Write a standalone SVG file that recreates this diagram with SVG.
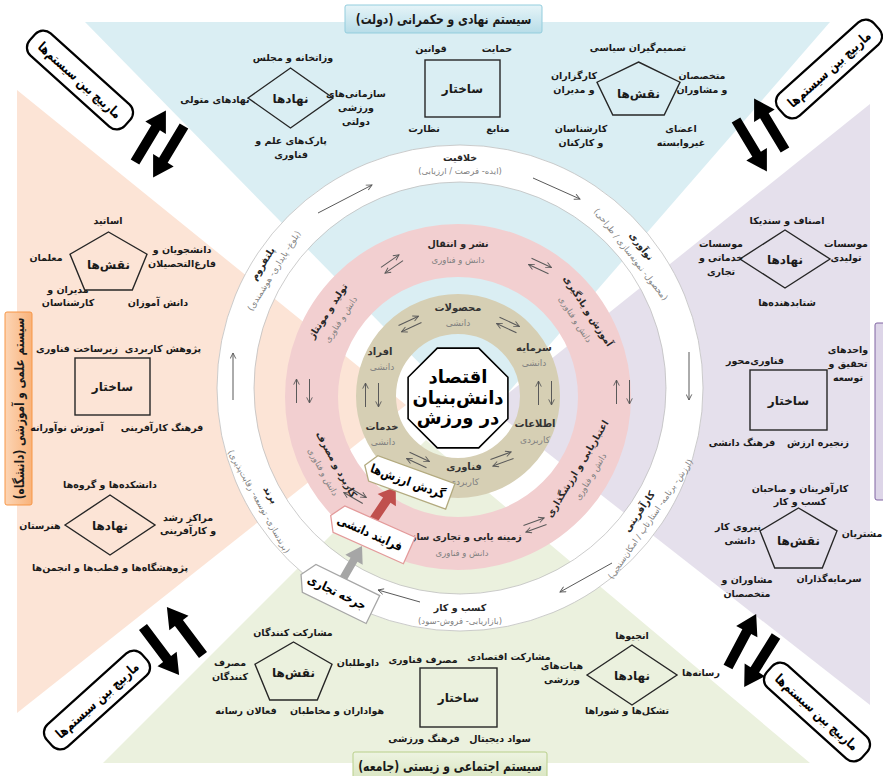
<svg xmlns="http://www.w3.org/2000/svg" width="883" height="776" viewBox="0 0 883 776">
<defs>
<style>
text{font-family:"DejaVu Sans","Noto Sans",sans-serif;text-anchor:middle;direction:rtl}
.l{font-size:9.5px;font-weight:bold;fill:#1a1a1a}
.c{font-size:12px;font-weight:bold;fill:#1a1a1a}
.rt{font-size:9.5px;font-weight:bold;fill:#262626}
.rs{font-size:8.5px;fill:#7f7f7f}
.tt{font-size:10px;font-weight:bold;fill:#333}
.ts{font-size:9px;fill:#808080}
.sh{fill:none;stroke:#262626;stroke-width:1.4}
.ta{fill:none;stroke:#595959;stroke-width:1;marker-end:url(#ah)}
.corner rect{fill:#fff;stroke:#000;stroke-width:2.2}
.corner text{font-size:13.5px;font-weight:bold;fill:#000}
.tag polygon{fill:#fff;stroke-width:1.3}
.tag text{font-size:12.5px;font-weight:bold;fill:#000}
.ttl{font-size:13.5px;font-weight:bold;fill:#1a1a1a}
.core{font-size:18px;font-weight:bold;fill:#000}
</style>
<linearGradient id="gB" x1="0" y1="0" x2="0" y2="1"><stop offset="0" stop-color="#e6f4f8"/><stop offset="1" stop-color="#b7dde8"/></linearGradient>
<linearGradient id="gO" x1="0" y1="0" x2="1" y2="0"><stop offset="0" stop-color="#fcd5b5"/><stop offset="1" stop-color="#f9b27a"/></linearGradient>
<linearGradient id="gG" x1="0" y1="0" x2="0" y2="1"><stop offset="0" stop-color="#eef4e2"/><stop offset="1" stop-color="#d7e4bd"/></linearGradient>
<marker id="ah" viewBox="0 0 10 10" refX="9" refY="5" markerWidth="7" markerHeight="7" orient="auto" markerUnits="userSpaceOnUse"><path d="M1,1 L9,5 L1,9" fill="none" stroke="#595959" stroke-width="1.3"/></marker>
<path id="ba" d="M0,-5 H40 V-12 L60,0 L40,12 V5 H0 Z" fill="#000"/>
<g id="p2" class="ta"><line x1="-11" y1="-3.5" x2="11" y2="-3.5"/><line x1="11" y1="3.5" x2="-11" y2="3.5"/></g>
<g id="p2w" class="ta"><line x1="-12" y1="-6.5" x2="12" y2="-6.5"/><line x1="12" y1="6.5" x2="-12" y2="6.5"/></g>
</defs>

<g id="background">
<polygon points="85,22 830,22 480,425" fill="#daeef3"/>
<polygon points="870,104 870,705 490,408" fill="#e5e0ec"/>
<polygon points="103,763 810,763 426,440" fill="#ebf1de"/>
<polygon points="17,90 17,713 406,405" fill="#fce4d6"/>
</g>

<g id="rings">
<circle cx="460" cy="388" r="224.5" fill="none" stroke="#fff" stroke-width="37"/>
<circle cx="460" cy="388" r="243" fill="none" stroke="#bfbfbf" stroke-width="0.8"/>
<circle cx="460" cy="388" r="206" fill="none" stroke="#bfbfbf" stroke-width="0.8"/>
<circle cx="458" cy="397" r="146.5" fill="none" stroke="#f2cfd0" stroke-width="53"/>
<circle cx="458" cy="396" r="82" fill="none" stroke="#d6cfb4" stroke-width="40"/>
</g>

<g id="title-top"><rect x="345" y="5" width="197" height="28" rx="2" fill="url(#gB)" stroke="#93cddd"/><text class="ttl" transform="translate(443.5,24) scale(0.8,1)">سیستم نهادی و حکمرانی (دولت)</text></g>
<g id="title-bottom"><rect x="353" y="752" width="194" height="30" rx="2" fill="url(#gG)" stroke="#b8cf8a"/><text class="ttl" transform="translate(450,771) scale(0.8,1)">سیستم اجتماعی و زیستی (جامعه)</text></g>
<g id="title-left"><rect x="5" y="312" width="27" height="193" rx="2" fill="url(#gO)" stroke="#f79646"/><text class="ttl" transform="translate(23.5,408.5) rotate(-90) scale(0.78,1)">سیستم علمی و آموزشی (دانشگاه)</text></g>
<g id="title-right"><rect x="875" y="323" width="20" height="177" rx="2" fill="#ddd5e8" stroke="#8064a2"/></g>

<g id="connectors">
<line class="ta" x1="318" y1="213" x2="372" y2="185"/>
<line class="ta" x1="533" y1="178" x2="580" y2="199"/>
<line class="ta" x1="689" y1="352" x2="689" y2="400"/>
<line class="ta" x1="612" y1="563" x2="560" y2="592"/>
<line class="ta" x1="420" y1="602" x2="378" y2="590"/>
<line class="ta" x1="233" y1="400" x2="233" y2="353"/>
<use href="#p2" transform="translate(392,264) rotate(-35)"/>
<use href="#p2" transform="translate(540,266) rotate(25)"/>
<use href="#p2w" transform="translate(303,391) rotate(-90)"/>
<use href="#p2w" transform="translate(623,392) rotate(-90)"/>
<use href="#p2" transform="translate(355,495) rotate(30)"/>
<use href="#p2" transform="translate(535,525) rotate(-20)"/>
<use href="#p2" transform="translate(508,325) rotate(25)"/>
<use href="#p2w" transform="translate(545,393) rotate(-90)"/>
<use href="#p2" transform="translate(502,459) rotate(-20)"/>
<use href="#p2" transform="translate(418,460) rotate(25)"/>
<use href="#p2w" transform="translate(372,395) rotate(-90)"/>
<use href="#p2" transform="translate(410,324) rotate(-25)"/>
<use href="#ba" transform="translate(135,162) rotate(-59)"/>
<use href="#ba" transform="translate(184,126) rotate(121)"/>
<use href="#ba" transform="translate(785,150) rotate(-121)"/>
<use href="#ba" transform="translate(736,120) rotate(59)"/>
<use href="#ba" transform="translate(203,655) rotate(-127)"/>
<use href="#ba" transform="translate(143,627) rotate(53)"/>
<use href="#ba" transform="translate(728,667) rotate(-62)"/>
<use href="#ba" transform="translate(776,636) rotate(122)"/>
<path transform="translate(340,584) rotate(-60)" d="M0,-4 H28 V-10 L44,0 L28,10 V4 H0 Z" fill="#a6a6a6"/>
<path transform="translate(370,525) rotate(-56)" d="M0,-4.5 H30 V-11 L46,0 L30,11 V4.5 H0 Z" fill="#c0504d"/>
</g>

<g id="ring-white-labels">
<g transform="translate(460,164)"><text class="rt" y="-3">خلاقیت</text><text class="rs" y="10">(ایده- فرصت / ارزیابی)</text></g>
<g transform="translate(636.5,250) rotate(52)"><text class="rt" y="-3">نوآوری</text><text class="rs" y="10">(محصول- نمونه&#8204;سازی / طراحی)</text></g>
<g transform="translate(644.6,515) rotate(-55.5)"><text class="rt" y="-3">کارآفرینی</text><text class="rs" y="10">(ارزش- برنامه- استارتاپ / امکان&#8204;سنجی)</text></g>
<g transform="translate(460,614)"><text class="rt" y="-3">کسب و کار</text><text class="rs" y="10">(بازاریابی- فروش-سود)</text></g>
<g transform="translate(265,498) rotate(60.6)"><text class="rt" y="-3">برند</text><text class="rs" y="10">(برندسازی- توسعه- رقابت&#8204;پذیری)</text></g>
<g transform="translate(268,267) rotate(-58)"><text class="rt" y="-3">پلتفروم</text><text class="rs" y="10">(بلوغ- پایداری- هوشمندی)</text></g>
</g>

<g id="ring-pink-labels">
<g transform="translate(458,250.5)"><text class="rt" y="-4">نشر و انتقال</text><text class="rs" y="12">دانش و فناوری</text></g>
<g transform="translate(582,315) rotate(57)"><text class="rt" y="-4">آموزش و یادگیری</text><text class="rs" y="11">دانش و فناوری</text></g>
<g transform="translate(583.6,472.5) rotate(-59)"><text class="rt" y="-4">اعتباریابی و ارزشگذاری</text><text class="rs" y="11">دانش و فناوری</text></g>
<g transform="translate(462,543.5)"><text class="rt" y="-4">زمینه یابی و تجاری سازی</text><text class="rs" y="12">دانش و فناوری</text></g>
<g transform="translate(330,468) rotate(61)"><text class="rt" y="-4">کاربرد و مصرف</text><text class="rs" y="11">دانش و فناوری</text></g>
<g transform="translate(334,315) rotate(-57)"><text class="rt" y="-4">تولید و مونتاژ</text><text class="rs" y="11">دانش و فناوری</text></g>
</g>

<g id="ring-tan-labels">
<text class="tt" x="458" y="311">محصولات</text><text class="ts" x="458" y="326">دانشی</text>
<text class="tt" x="534" y="351">سرمایه</text><text class="ts" x="534" y="366">دانشی</text>
<text class="tt" x="535" y="427">اطلاعات</text><text class="ts" x="535" y="443">کاربردی</text>
<text class="tt" x="464" y="470">فناوری</text><text class="ts" x="464" y="485">کاربردی</text>
<text class="tt" x="382" y="430">خدمات</text><text class="ts" x="383" y="445">دانشی</text>
<text class="tt" x="380" y="355">افراد</text><text class="ts" x="382" y="370">دانشی</text>
</g>

<g id="core">
<polygon points="507.9,377.3 478.7,348.1 437.3,348.1 408.1,377.3 408.1,418.7 437.3,447.9 478.7,447.9 507.9,418.7" fill="#fff" stroke="#000" stroke-width="1.6"/>
<text class="core" x="458" y="383">اقتصاد</text>
<text class="core" x="458" y="404">دانش&#8204;بنیان</text>
<text class="core" x="458" y="424">در ورزش</text>
</g>

<g id="tag-values" class="tag" transform="translate(408,481) rotate(20)"><polygon points="-46,0 -37,-13.5 45,-13.5 45,13.5 -37,13.5" stroke="#b3aa7f"/><text y="4.5" transform="scale(0.85,1)">گردش ارزش&#8204;ها</text></g>
<g id="tag-knowledge" class="tag" transform="translate(370,533) rotate(24)"><polygon points="-43,0 -34,-14.5 43,-14.5 43,14.5 -34,14.5" stroke="#e39a9a"/><text y="4.5" transform="scale(0.85,1)">فرایند دانشی</text></g>
<g id="tag-commerce" class="tag" transform="translate(337,592) rotate(26)"><polygon points="-40,0 -31,-15.5 40,-15.5 40,15.5 -31,15.5" stroke="#a6a6a6"/><text y="4.5" transform="scale(0.85,1)">جرخه تجاری</text></g>

<g id="corner-tl" class="corner" transform="translate(80,80) rotate(42)"><rect x="-64" y="-15" width="128" height="30" rx="11"/><text y="5" transform="scale(0.78,1)">ماربیچ بین سیستم&#8204;ها</text></g>
<g id="corner-tr" class="corner" transform="translate(829,69) rotate(-42)"><rect x="-64" y="-15" width="128" height="30" rx="11"/><text y="5" transform="scale(0.78,1)">ماربیچ بین سیستم&#8204;ها</text></g>
<g id="corner-bl" class="corner" transform="translate(97,700) rotate(-42)"><rect x="-64" y="-15" width="128" height="30" rx="11"/><text y="5" transform="scale(0.78,1)">ماربیچ بین سیستم&#8204;ها</text></g>
<g id="corner-br" class="corner" transform="translate(817,712) rotate(42)"><rect x="-64" y="-15" width="128" height="30" rx="11"/><text y="5" transform="scale(0.78,1)">ماربیچ بین سیستم&#8204;ها</text></g>

<g id="top-institutions">
<polygon class="sh" points="248,98 290.5,68 333,98 290.5,128"/>
<text class="c" x="290.5" y="103">نهادها</text>
<text class="l" x="293" y="61">وزاتخانه و مجلس</text>
<text class="l" x="215" y="103">نهادهای متولی</text>
<text class="l" x="356" y="97">سازمانی&#8204;های</text>
<text class="l" x="356" y="111">ورزشی</text>
<text class="l" x="356" y="125">دولتی</text>
<text class="l" x="291" y="144">پارک&#8204;های علم و</text>
<text class="l" x="291" y="158">فناوری</text>
</g>
<g id="top-structure">
<rect class="sh" x="425" y="60" width="75" height="57"/>
<text class="c" x="462.5" y="93">ساختار</text>
<text class="l" x="431" y="52">قوانین</text>
<text class="l" x="497" y="52">حمایت</text>
<text class="l" x="424" y="132">نظارت</text>
<text class="l" x="498" y="132">منابع</text>
</g>
<g id="top-roles">
<polygon class="sh" points="638.5,62 680,82.2 664.2,115 612.8,115 597,82.2"/>
<text class="c" x="638.5" y="98">نقش&#8204;ها</text>
<text class="l" x="638" y="51">تصمیم&#8204;گیران سیاسی</text>
<text class="l" x="574" y="79">کارگزاران</text>
<text class="l" x="574" y="93">و مدیران</text>
<text class="l" x="702" y="79">متخصصان</text>
<text class="l" x="702" y="93">و مشاوران</text>
<text class="l" x="581" y="132">کارشناسان</text>
<text class="l" x="581" y="146">و کارکنان</text>
<text class="l" x="681" y="132">اعضای</text>
<text class="l" x="681" y="146">غیروابسته</text>
</g>

<g id="left-roles">
<polygon class="sh" points="108.5,232 147,254.2 132.3,290 84.7,290 70,254.2"/>
<text class="c" x="108.5" y="269">نقش&#8204;ها</text>
<text class="l" x="108" y="224">اساتید</text>
<text class="l" x="46" y="261">معلمان</text>
<text class="l" x="182" y="253">دانشجویان و</text>
<text class="l" x="182" y="267">فارغ&#8204;التحصیلان</text>
<text class="l" x="68" y="293">مدیران و</text>
<text class="l" x="68" y="306">کارشناسان</text>
<text class="l" x="158" y="306">دانش آموزان</text>
</g>
<g id="left-structure">
<rect class="sh" x="75" y="358" width="75" height="57"/>
<text class="c" x="112.5" y="391">ساختار</text>
<text class="l" x="163" y="352">پژوهش کاربردی</text>
<text class="l" x="77" y="352">زیرساخت فناوری</text>
<text class="l" x="162" y="431">فرهنگ کارآفرینی</text>
<text class="l" x="67" y="431">آموزش نوآورانه</text>
</g>
<g id="left-institutions">
<polygon class="sh" points="65,525 110,495 155,525 110,555"/>
<text class="c" x="110" y="530">نهادها</text>
<text class="l" x="110" y="488">دانشکده&#8204;ها و گروه&#8204;ها</text>
<text class="l" x="40" y="529">هنرستان</text>
<text class="l" x="188" y="521">مراکز رشد</text>
<text class="l" x="188" y="534">و کارآفرینی</text>
<text class="l" x="110" y="571">پژوهشگاه&#8204;ها و قطب&#8204;ها و انجمن&#8204;ها</text>
</g>

<g id="right-institutions">
<polygon class="sh" points="740,259 785,230 830,259 785,288"/>
<text class="c" x="785" y="264">نهادها</text>
<text class="l" x="787" y="224">اصناف و سندیکا</text>
<text class="l" x="721" y="247">موسسات</text>
<text class="l" x="721" y="261">خدماتی و</text>
<text class="l" x="721" y="275">تجاری</text>
<text class="l" x="846" y="247">موسسات</text>
<text class="l" x="846" y="261">تولیدی</text>
<text class="l" x="787" y="306">شتابدهنده&#8204;ها</text>
</g>
<g id="right-structure">
<rect class="sh" x="750" y="370" width="77" height="60"/>
<text class="c" x="788.5" y="405">ساختار</text>
<text class="l" x="755" y="364">فناوری&#8204;محور</text>
<text class="l" x="848" y="353">واحدهای</text>
<text class="l" x="848" y="367">تحقیق و</text>
<text class="l" x="848" y="381">توسعه</text>
<text class="l" x="818" y="446">زنجیره ارزش</text>
<text class="l" x="742" y="446">فرهنگ دانشی</text>
</g>
<g id="right-roles">
<polygon class="sh" points="798.5,508 837,530.9 822.3,568 774.7,568 760,530.9"/>
<text class="c" x="798.5" y="545">نقش&#8204;ها</text>
<text class="l" x="800" y="492">کارآفرینان و صاحبان</text>
<text class="l" x="800" y="505">کسب و کار</text>
<text class="l" x="738" y="530">نیروی کار</text>
<text class="l" x="740" y="544">دانشی</text>
<text class="l" x="862" y="537">مشتریان</text>
<text class="l" x="747" y="583">مشاوران و</text>
<text class="l" x="747" y="597">متخصصان</text>
<text class="l" x="829" y="582">سرمایه&#8204;گذاران</text>
</g>

<g id="bottom-roles">
<polygon class="sh" points="293.5,642 332,664.2 317.3,700 269.7,700 255,664.2"/>
<text class="c" x="293.5" y="677">نقش&#8204;ها</text>
<text class="l" x="293" y="636">مشارکت کنندگان</text>
<text class="l" x="230" y="666">مصرف</text>
<text class="l" x="230" y="680">کنندگان</text>
<text class="l" x="358" y="666">داوطلبان</text>
<text class="l" x="246" y="714">فعالان رسانه</text>
<text class="l" x="337" y="714">هواداران و مخاطبان</text>
</g>
<g id="bottom-structure">
<rect class="sh" x="420" y="668" width="77" height="59"/>
<text class="c" x="458.5" y="702">ساختار</text>
<text class="l" x="423" y="663">مصرف فناوری</text>
<text class="l" x="509" y="660">مشارکت اقتصادی</text>
<text class="l" x="424" y="742">فرهنگ ورزشی</text>
<text class="l" x="500" y="742">سواد دیجیتال</text>
</g>
<g id="bottom-institutions">
<polygon class="sh" points="587,675 632,645 677,675 632,705"/>
<text class="c" x="632" y="680">نهادها</text>
<text class="l" x="632" y="639">انجیوها</text>
<text class="l" x="562" y="669">هیات&#8204;های</text>
<text class="l" x="562" y="683">ورزشی</text>
<text class="l" x="701" y="676">رسانه&#8204;ها</text>
<text class="l" x="627" y="714">تشکل&#8204;ها و شوراها</text>
</g>
</svg>
